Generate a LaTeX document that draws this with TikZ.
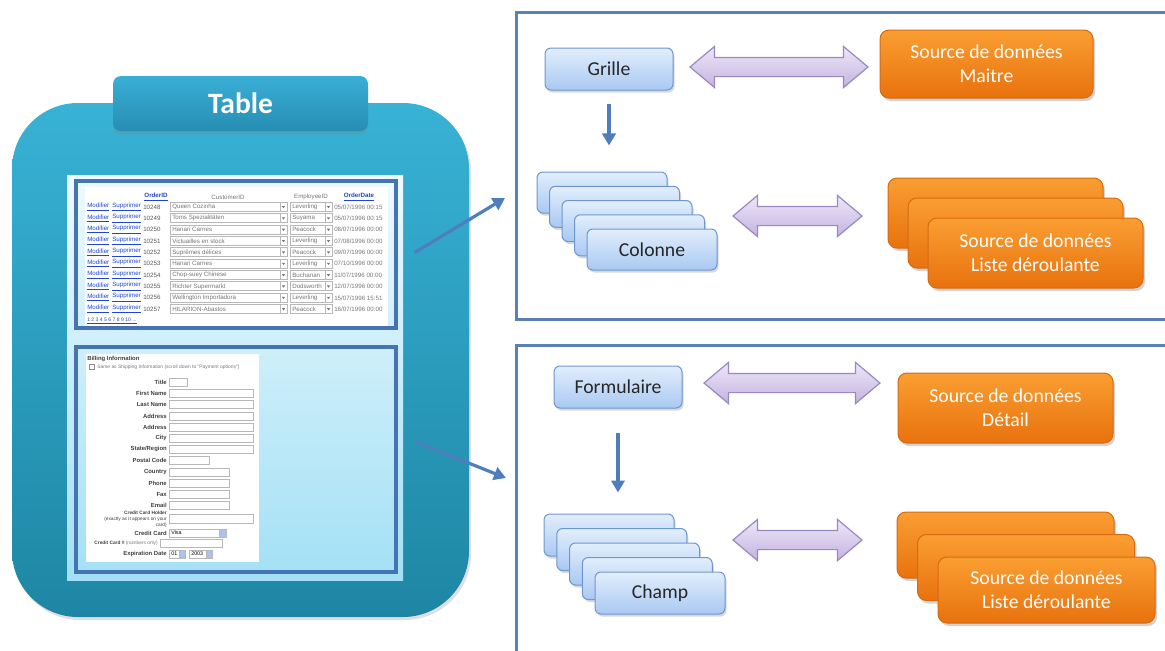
\documentclass[tikz,border=0pt]{standalone}
\usepackage{fontspec}
\setmainfont{Carlito}
\newfontfamily\webfont{Liberation Sans}
\usetikzlibrary{arrows.meta, shapes.arrows, shadows, positioning, calc}
\definecolor{tealTop}{HTML}{38B2D5}
\definecolor{tealBot}{HTML}{1E86A4}
\definecolor{tabTop}{HTML}{3AAFD6}
\definecolor{tabBot}{HTML}{278DB2}
\definecolor{paneTop}{HTML}{EEFAFE}
\definecolor{paneBot}{HTML}{A3E0F5}
\definecolor{frameBlue}{HTML}{4673B4}
\definecolor{panelLine}{HTML}{5B80B8}
\definecolor{boxTop}{HTML}{E2EEFC}
\definecolor{boxBot}{HTML}{A9C9F2}
\definecolor{boxLine}{HTML}{6F97CF}
\definecolor{orTop}{HTML}{FA9E32}
\definecolor{orBot}{HTML}{E8720E}
\definecolor{orLine}{HTML}{D86A10}
\definecolor{lavTop}{HTML}{EEE7F8}
\definecolor{lavBot}{HTML}{C4B3E0}
\definecolor{lavLine}{HTML}{9A88C4}
\definecolor{linkBlue}{HTML}{4F7EBD}
\definecolor{webBlue}{HTML}{2145D0}
\definecolor{webGrey}{HTML}{777777}
\definecolor{fieldLine}{HTML}{B8B8B8}
\definecolor{btnBlue}{HTML}{A9C3EA}
\newdimen\pxu
\pxu=0.025cm
\tikzset{
  link/.style       = {-{Triangle[length=3mm, width=3.3mm]}, line width=3.2\pxu, linkBlue},
  panelframe/.style = {draw=panelLine, line width=3\pxu, fill=white,
                       drop shadow={opacity=0.2, shadow xshift=2\pxu, shadow yshift=-2\pxu}},
  webframe/.style   = {draw=frameBlue, line width=3.5\pxu, inner sep=0pt},
  tabbox/.style     = {rectangle, rounded corners=8\pxu, top color=tabTop, bottom color=tabBot,
                       text=white, minimum width=255\pxu, minimum height=55\pxu,
                       font=\bfseries\fontsize{21}{24}\selectfont,
                       drop shadow={opacity=0.3, shadow xshift=0pt, shadow yshift=-3\pxu}},
  bluebox/.style    = {rectangle, rounded corners=6\pxu, draw=boxLine, line width=1\pxu,
                       top color=boxTop, bottom color=boxBot, text=black!85,
                       minimum width=128\pxu, minimum height=42\pxu,
                       font=\fontsize{14}{17}\selectfont,
                       drop shadow={opacity=0.3, shadow xshift=1.5\pxu, shadow yshift=-2.5\pxu}},
  srcbox/.style     = {rectangle, rounded corners=9\pxu, draw=orLine, line width=1\pxu,
                       top color=orTop, bottom color=orBot, text=white, align=center,
                       minimum width=215\pxu, minimum height=70\pxu,
                       font=\fontsize{14}{17}\selectfont,
                       drop shadow={opacity=0.35, shadow xshift=2\pxu, shadow yshift=-3\pxu}},
  fatarrow/.style   = {double arrow, draw=lavLine, line width=1.2\pxu,
                       top color=lavTop, bottom color=lavBot,
                       inner xsep=0pt, inner ysep=9\pxu,
                       double arrow head extend=11\pxu, double arrow tip angle=80},
  webtxt/.style     = {font=\webfont\fontsize{4.4}{5}\selectfont, inner sep=0pt},
  weblink/.style    = {webtxt, text=webBlue},
  field/.style      = {draw=fieldLine, line width=1\pxu, fill=white},
  formlbl/.style    = {font=\webfont\bfseries\fontsize{4.2}{4.6}\selectfont, inner sep=0pt,
                       text=black!75, anchor=east},
}
\begin{document}
\begin{tikzpicture}[x=0.025cm, y=-0.025cm]
  \useasboundingbox (0,0) rectangle (1165,651);
  % the table
  \path[top color=tealTop, bottom color=tealBot, rounded corners=1.65cm,
        drop shadow={opacity=0.25, shadow xshift=2\pxu, shadow yshift=-3\pxu}]
    (12,103) rectangle (469,617);
  \node[tabbox] (tab) at (240.5,103.5) {Table};
  \path[top color=paneTop, bottom color=paneBot] (67,175) rectangle (403,580);
  \fill[white] (85,187) rectangle (388,327);
  \fill[white] (86,354) rectangle (259,562);
  \node[webframe, minimum width=320\pxu, minimum height=147\pxu] (gridframe) at (236,254.5) {};
  \node[webframe, minimum width=320\pxu, minimum height=225\pxu] (formframe) at (236,459.5) {};

  % grid screenshot
  \node[weblink, font=\webfont\bfseries\fontsize{4.4}{5}\selectfont] (hOrder) at (156,197) {\underline{OrderID}};
  \node[webtxt, text=webGrey] (hCust) at (228,197) {CustomerID};
  \node[webtxt, text=webGrey] (hEmp) at (311,197) {EmployeeID};
  \node[weblink, font=\webfont\bfseries\fontsize{4.4}{5}\selectfont] (hDate) at (359,197) {\underline{OrderDate}};
  \foreach \oid/\cust/\emp/\odate [count=\r from 0] in {
      10248/Queen Cozinha/Leverling/{05/07/1996 00:15},
      10249/Toms Spezialitäten/Suyama/{05/07/1996 00:15},
      10250/Hanari Carnes/Peacock/{08/07/1996 00:00},
      10251/Victuailles en stock/Leverling/{07/08/1996 00:00},
      10252/Suprêmes délices/Peacock/{09/07/1996 00:00},
      10253/Hanari Carnes/Leverling/{07/10/1996 00:00},
      10254/Chop-suey Chinese/Buchanan/{11/07/1996 00:00},
      10255/Richter Supermarkt/Dodsworth/{12/07/1996 00:00},
      10256/Wellington Importadora/Leverling/{15/07/1996 15:51},
      10257/HILARION-Abastos/Peacock/{16/07/1996 00:00}}{
    \pgfmathsetmacro{\ry}{207+11.35*\r}
    \node[weblink, anchor=west] (mod\r) at (87,\ry) {\underline{Modifier}};
    \node[weblink, anchor=west] (sup\r) at (112,\ry) {\underline{Supprimer}};
    \node[webtxt, anchor=west, text=black!65] (id\r) at (143,\ry) {\oid};
    \draw[field] (170,\ry-4.5) rectangle (287,\ry+4.5);
    \draw[field] (280,\ry-4.5) rectangle (287,\ry+4.5);
    \fill[webGrey] (281.8,\ry-1) -- (285.2,\ry-1) -- (283.5,\ry+1.2) -- cycle;
    \node[webtxt, anchor=west, text=webGrey] (cu\r) at (172,\ry) {\cust};
    \draw[field] (290,\ry-4.5) rectangle (332,\ry+4.5);
    \draw[field] (325,\ry-4.5) rectangle (332,\ry+4.5);
    \fill[webGrey] (326.8,\ry-1) -- (330.2,\ry-1) -- (328.5,\ry+1.2) -- cycle;
    \node[webtxt, anchor=west, text=webGrey] (em\r) at (292,\ry) {\emp};
    \node[webtxt, anchor=west, text=webGrey] (dt\r) at (334,\ry) {\odate};
  }
  \node[weblink, anchor=west, font=\webfont\fontsize{3.6}{4}\selectfont] (pager) at (87,321) {\underline{1 2 3 4 5 6 7 8 9 10 ...}};

  % form screenshot
  \node[formlbl, anchor=west] (billing) at (87,359) {Billing Information};
  \draw[field, draw=black!45] (89,364.5) rectangle (94,369.5);
  \node[webtxt, anchor=west, text=webGrey, font=\webfont\fontsize{3.5}{4}\selectfont] (same) at (97,367)
    {Same as Shipping Information (scroll down to "Payment options")};
  \foreach \lab/\fy/\fend [count=\k] in {Title/382/187, First Name/393/253, Last Name/404/253,
      Address/416/253, Address/427/253, City/438/253, {State/Region}/449/253,
      Postal Code/460/209, Country/472/229, Phone/483/229, Fax/494/229, Email/505/229}{
    \node[formlbl] (lab\k) at (167,\fy) {\lab};
    \draw[field] (169,\fy-4) rectangle (\fend,\fy+4);
  }
  \node[formlbl, align=right, font=\webfont\fontsize{3.4}{4.2}\selectfont] (holder) at (167,519)
    {\textbf{Credit Card Holder}\\(exactly as it appears on your\\card)};
  \draw[field] (169,514) rectangle (253,523);
  \node[formlbl] (cardlbl) at (167,533) {Credit Card};
  \draw[field] (169,529) rectangle (226,537);
  \draw[field, fill=btnBlue] (219,529) rectangle (226,537);
  \node[webtxt, anchor=west, font=\webfont\fontsize{3.8}{4}\selectfont] (visa) at (171,533) {Visa};
  \node[formlbl, font=\webfont\bfseries\fontsize{3.4}{4}\selectfont] (numlbl) at (158,543)
    {Credit Card \# {\mdseries\color{webGrey}(numbers only)}};
  \draw[field] (160,539) rectangle (222,547);
  \node[formlbl] (explbl) at (167,554) {Expiration Date};
  \draw[field] (169,550) rectangle (185,558);
  \draw[field, fill=btnBlue] (179,550) rectangle (185,558);
  \node[webtxt, anchor=west, font=\webfont\fontsize{3.8}{4}\selectfont] (month) at (171,554) {01};
  \draw[field] (189,550) rectangle (212,558);
  \draw[field, fill=btnBlue] (206,550) rectangle (212,558);
  \node[webtxt, anchor=west, font=\webfont\fontsize{3.8}{4}\selectfont] (year) at (191,554) {2003};

  % master panel
  \draw[panelframe] (516,12) rectangle (1180,319);
  \node[bluebox] (grille) at (609,69) {Grille};
  \node[srcbox, minimum width=213\pxu, minimum height=68\pxu] (maitre) at (986.5,64) {Source de données\\Maitre};
  \node[fatarrow, minimum height=178\pxu] (gm) at (779,67) {};
  \foreach \k in {4,3,2,1}
    \node[bluebox, minimum width=130\pxu, minimum height=41\pxu] (col\k) at (652-12.5*\k,249.5-14.25*\k) {};
  \node[bluebox, minimum width=130\pxu, minimum height=41\pxu] (colonne) at (652,249.5) {Colonne};
  \node[fatarrow, minimum height=129\pxu] (cl) at (797.5,216) {};
  \foreach \k in {2,1}
    \node[srcbox] (listA\k) at (1035.5-20*\k,253-20*\k) {};
  \node[srcbox] (listeA) at (1035.5,253) {Source de données\\Liste déroulante};
  \draw[link] ([yshift=-0.325cm]grille.south) -- ($(grille.south |- col4.north)+(0,-26)$);

  % detail panel
  \draw[panelframe] (516,345) rectangle (1180,665);
  \node[bluebox] (formulaire) at (618,387) {Formulaire};
  \node[srcbox] (detail) at (1005.5,408) {Source de données\\Détail};
  \node[fatarrow, minimum height=176\pxu] (fd) at (792,383) {};
  \foreach \k in {4,3,2,1}
    \node[bluebox, minimum width=130\pxu] (chp\k) at (660-12.75*\k,593-14.5*\k) {};
  \node[bluebox, minimum width=130\pxu] (champ) at (660,593) {Champ};
  \node[fatarrow, minimum height=129\pxu] (cb) at (797.5,540) {};
  \foreach \k in {2,1}
    \node[srcbox, minimum width=217\pxu, minimum height=66\pxu] (listB\k) at (1046.5-20.5*\k,590-22.5*\k) {};
  \node[srcbox, minimum width=217\pxu, minimum height=66\pxu] (listeB) at (1046.5,590) {Source de données\\Liste déroulante};
  \draw[link] ([yshift=-0.6cm]formulaire.south) -- ($(formulaire.south |- chp4.north)+(0,-21)$);

  % from the screens to the panels
  \coordinate (toptip) at (505,198);
  \coordinate (bottip) at (506,478);
  \draw[link] ([shift={(17,-2)}]gridframe.east) -- (toptip);
  \draw[link] ([shift={(17,-18)}]formframe.east) -- (bottip);
\end{tikzpicture}
\end{document}
